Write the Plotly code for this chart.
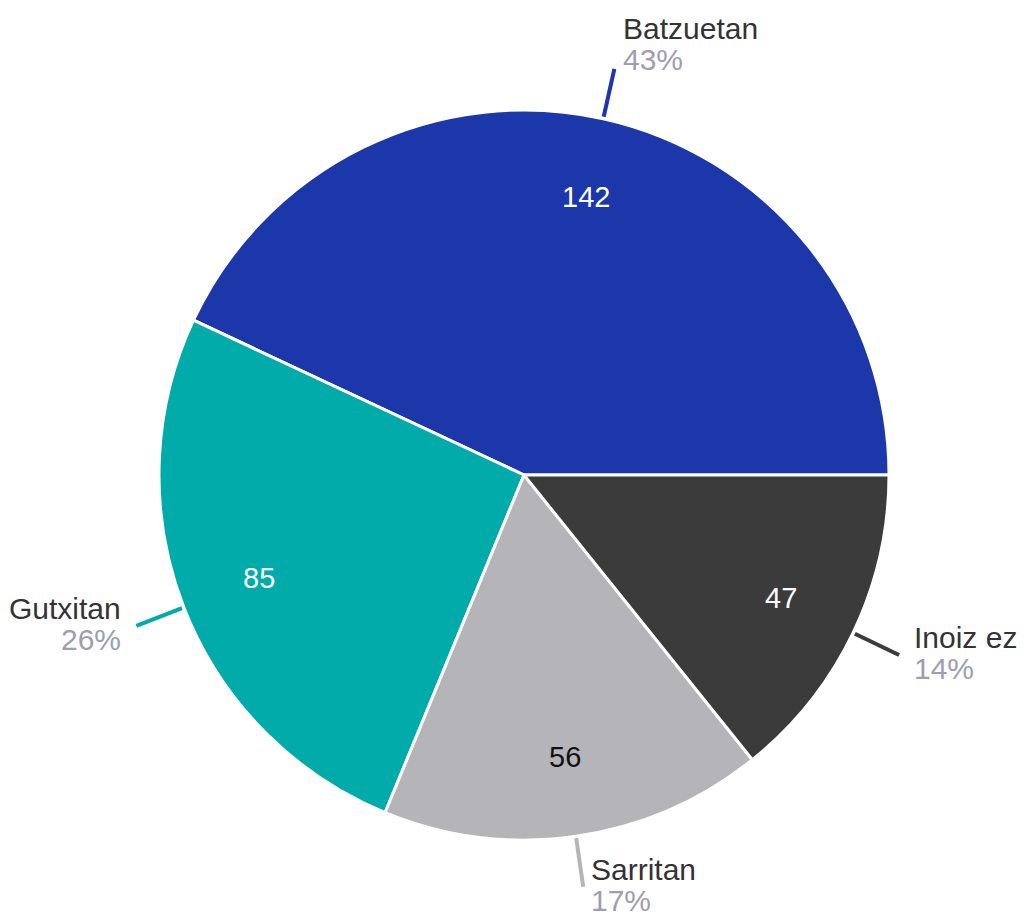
import math
import plotly.graph_objects as go

# data
labels = ["Batzuetan", "Gutxitan", "Sarritan", "Inoiz ez"]
values = [142, 85, 56, 47]
colors = ["#1b37a9", "#00aba9", "#b5b4b9", "#3b3b3b"]
value_font_colors = ["#ffffff", "#ffffff", "#111111", "#ffffff"]

OFF = 8  # default body margin of the html page
W, H = 1025 - OFF, 920 - OFF
CX, CY, R = 524 - OFF, 475 - OFF, 365  # pie centre / radius in px

FONT = "Arial, Liberation Sans, sans-serif"
FS = 30
NAME_COL = "#333333"
PCT_COL = "#9e9db2"


def px(x, y):
    return x / W, 1 - y / H


total = sum(values)
# plotly's counterclockwise mode puts the first slice clockwise of `rotation`,
# so turn it back so that the first slice starts at 3 o'clock
rot = 90 - 360 * values[0] / total

fig = go.Figure(go.Pie(
    labels=labels,
    values=values,
    sort=False,
    direction="counterclockwise",
    rotation=rot,
    marker=dict(colors=colors, line=dict(color="#ffffff", width=3)),
    textinfo="none",
    hoverinfo="label+value+percent",
    domain=dict(x=[(CX - R) / W, (CX + R) / W],
                y=[1 - (CY + R) / H, 1 - (CY - R) / H]),
    showlegend=False,
))

annotations = []
shapes = []
cum = 0
for lab, val, col, vcol in zip(labels, values, colors, value_font_colors):
    frac = val / total
    mid = 2 * math.pi * (cum + frac / 2)
    cum += frac
    c, s = math.cos(mid), math.sin(mid)

    # value inside the slice
    vx, vy = CX + 0.78 * R * c, CY - 0.78 * R * s
    ax, ay = px(vx, vy)
    annotations.append(dict(x=ax, y=ay, xref="paper", yref="paper", text=str(val),
                            xanchor="center", yanchor="middle", showarrow=False,
                            font=dict(family=FONT, size=FS - 1, color=vcol)))

    # leader line
    x0, y0 = CX + (R + 2) * c, CY - (R + 2) * s
    x1, y1 = CX + (R + 51) * c, CY - (R + 51) * s
    p0, p1 = px(x0, y0), px(x1, y1)
    shapes.append(dict(type="line", xref="paper", yref="paper",
                       x0=p0[0], y0=p0[1], x1=p1[0], y1=p1[1],
                       line=dict(color=col, width=4)))

    # outside label: name + percent
    gap = 4 + 10 * abs(c)
    if c >= 0:
        tx, anchor = x1 + gap, "left"
    else:
        tx, anchor = x1 - gap, "right"
    name_y = y1 - 17 - 24 * max(0.0, s)
    pct_y = name_y + 31
    nx, ny = px(tx, name_y)
    _, py2 = px(tx, pct_y)
    annotations.append(dict(x=nx, y=ny, xref="paper", yref="paper", text=lab,
                            xanchor=anchor, yanchor="middle", showarrow=False,
                            font=dict(family=FONT, size=FS, color=NAME_COL)))
    annotations.append(dict(x=nx, y=py2, xref="paper", yref="paper",
                            text=f"{round(frac * 100)}%",
                            xanchor=anchor, yanchor="middle", showarrow=False,
                            font=dict(family=FONT, size=FS, color=PCT_COL)))

fig.update_layout(
    width=W, height=H,
    margin=dict(l=0, r=0, t=0, b=0),
    paper_bgcolor="#ffffff",
    plot_bgcolor="#ffffff",
    annotations=annotations,
    shapes=shapes,
)

fig.write_html("out.html")
